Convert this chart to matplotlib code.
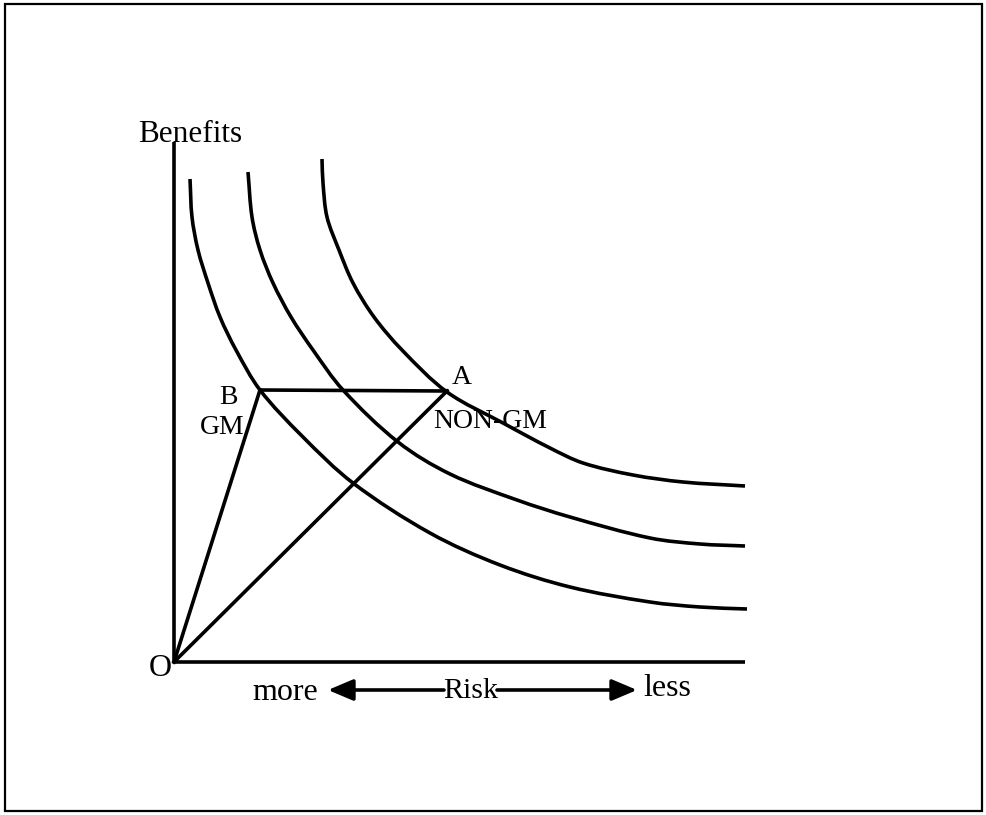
"""Risk-benefit indifference curves, GM versus NON-GM."""

import matplotlib

matplotlib.use("Agg")
import matplotlib.pyplot as plt
import numpy as np
from matplotlib.patches import PathPatch, Rectangle
from matplotlib.path import Path

plt.rcParams["font.family"] = ["Liberation Serif", "DejaVu Serif"]

# points (risk axis, benefit axis), inner to outer
curve1_x = [16, 18, 24, 34, 46, 62, 86, 128, 179, 256, 326, 396, 476, 526, 573]
curve1_y = [483, 445, 412, 379, 345, 312, 272, 226, 179, 129, 97, 75, 60, 55, 53]
curve2_x = [74, 78, 86, 99, 117, 139, 169, 224, 276, 343, 396, 476, 526, 571]
curve2_y = [490, 445, 412, 379, 345, 312, 272, 220, 188, 162, 145, 124, 118, 116]
curve3_x = [148, 149, 153, 165, 179, 200, 228, 273, 329, 376, 409, 459, 509, 571]
curve3_y = [503, 479, 445, 412, 379, 345, 312, 270, 239, 214, 199, 187, 180, 176]

origin = (0, 0)
point_b = (86, 272)
point_a = (273, 271)
axis_x_end = 571
axis_y_end = 520

LW = 2.6


def smooth_path(xs, ys):
    """Smooth Bezier curve through the read points (tangents from neighbours)."""
    pts = np.column_stack([xs, ys]).astype(float)
    n = len(pts)
    tangents = []
    for i in range(n):
        d = pts[min(i + 1, n - 1)] - pts[max(i - 1, 0)]
        tangents.append(d / np.hypot(*d))
    verts = [pts[0]]
    codes = [Path.MOVETO]
    for i in range(n - 1):
        seg = np.hypot(*(pts[i + 1] - pts[i])) / 3
        verts += [pts[i] + tangents[i] * seg, pts[i + 1] - tangents[i + 1] * seg, pts[i + 1]]
        codes += [Path.CURVE4] * 3
    return Path(verts, codes)


fig = plt.figure(figsize=(9.87, 8.15), dpi=100)
ax = fig.add_axes([0, 0, 1, 1])
ax.set_xlim(-174, 813)
ax.set_ylim(-153, 662)
ax.axis("off")

fig.patches.append(
    Rectangle((0.005, 0.005), 0.99, 0.99, transform=fig.transFigure,
              fill=False, edgecolor="black", linewidth=1.6)
)

# axes
ax.plot([0, 0], [0, axis_y_end], color="black", lw=LW, solid_capstyle="butt")
ax.plot([0, axis_x_end], [0, 0], color="black", lw=LW, solid_capstyle="butt")

for cx, cy in [(curve1_x, curve1_y), (curve2_x, curve2_y), (curve3_x, curve3_y)]:
    ax.add_patch(PathPatch(smooth_path(cx, cy), fill=False, edgecolor="black",
                           lw=LW, capstyle="butt"))

ax.plot([origin[0], point_b[0]], [origin[1], point_b[1]], color="black", lw=LW)
ax.plot([origin[0], point_a[0]], [origin[1], point_a[1]], color="black", lw=LW)
ax.plot([point_b[0], point_a[0]], [point_b[1], point_a[1]], color="black", lw=LW)

ax.text(16, 527, "Benefits", fontsize=22.5, ha="center", va="center")
ax.text(-14, -6, "O", fontsize=23, ha="center", va="center")
ax.text(54, 265, "B", fontsize=20, ha="center", va="center")
ax.text(48, 234, "GM", fontsize=20, ha="center", va="center")
ax.text(288, 285, "A", fontsize=20, ha="center", va="center")
ax.text(316, 240, "NON-GM", fontsize=20, ha="center", va="center")

ax.text(111, -31, "more", fontsize=23, ha="center", va="center")
ax.text(297, -29, "Risk", fontsize=21.5, ha="center", va="center")
ax.text(493, -27, "less", fontsize=23, ha="center", va="center")

arrow = dict(arrowstyle="-|>,head_length=0.85,head_width=0.36", color="black",
             lw=LW, shrinkA=0, shrinkB=0, mutation_scale=18)
ax.annotate("", xy=(154, -28), xytext=(270, -28), arrowprops=arrow)
ax.annotate("", xy=(463, -28), xytext=(323, -28), arrowprops=arrow)

fig.savefig("out.png", dpi=100)
